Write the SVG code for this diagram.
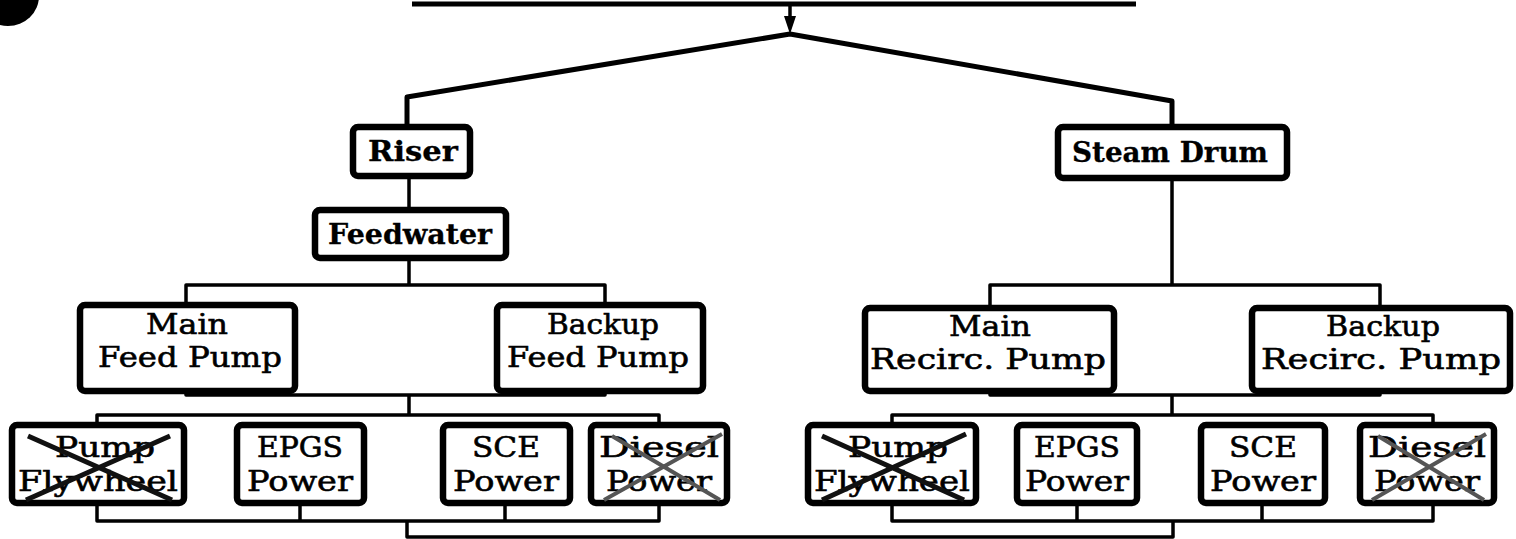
<svg xmlns="http://www.w3.org/2000/svg" width="1516" height="539" viewBox="0 0 1516 539">
<style>
.box{fill:#fff;stroke:#000;stroke-width:6.5}
.t{font-family:"DejaVu Serif","Liberation Serif",serif;fill:#000;stroke:#000;stroke-width:0.6;text-anchor:middle;font-size:28px}
.b{font-weight:bold;stroke-width:0.3}
.ln{stroke:#000;stroke-width:3.5;fill:none;stroke-linejoin:round}
.thick{stroke-width:5}
.xd{stroke:#111;stroke-width:5}
.xg{stroke:#555;stroke-width:4}
</style>
<rect width="1516" height="539" fill="#fff"/>
<ellipse cx="8" cy="-4" rx="31" ry="30" fill="#000"/>
<g id="connectors">
<path class="ln thick" d="M412,4 H1136"/>
<path class="ln" d="M790,5 V28"/>
<polygon points="784,16 796,16 790,34" fill="#000"/>
<path class="ln thick" d="M407,127 V97 L790,34 L1172,101 V127"/>
<path class="ln" d="M409,176 V210"/>
<path class="ln" d="M409,258 V285 M186,305 V285 H605 V305"/>
<path class="ln" d="M186,391 V395 H605 V391 M409,395 V415"/>
<path class="ln" d="M97,425 V415 H659 V425"/>
<path class="ln" d="M97,503 V521 H659 V503 M300,503 V521 M505,503 V521"/>
<path class="ln" d="M407,521 V537 H1173 V521"/>
<path class="ln" d="M1172,178 V285 M990,308 V285 H1380 V308"/>
<path class="ln" d="M990,391 V395 H1380 V391 M1172,395 V415"/>
<path class="ln" d="M892,425 V415 H1433 V425"/>
<path class="ln" d="M892,503 V521 H1433 V503 M1077,503 V521 M1262,503 V521"/>
</g>
<g id="riser"><rect class="box" x="353" y="127" width="117" height="49" rx="5"/><text class="t b" x="413" y="161" textLength="90" lengthAdjust="spacingAndGlyphs">Riser</text></g>
<g id="feedwater"><rect class="box" x="315" y="210" width="191" height="48" rx="5"/><text class="t b" x="410" y="244" textLength="164" lengthAdjust="spacingAndGlyphs">Feedwater</text></g>
<g id="steam-drum"><rect class="box" x="1058" y="127" width="229" height="51" rx="5"/><text class="t b" x="1170" y="162" textLength="196" lengthAdjust="spacingAndGlyphs">Steam Drum</text></g>
<g id="main-feed-pump"><rect class="box" x="80" y="305" width="215" height="86" rx="5"/><text class="t" x="187" y="334" textLength="82" lengthAdjust="spacingAndGlyphs">Main</text><text class="t" x="190" y="367" textLength="184" lengthAdjust="spacingAndGlyphs">Feed Pump</text></g>
<g id="backup-feed-pump"><rect class="box" x="497" y="305" width="206" height="86" rx="5"/><text class="t" x="603" y="334" textLength="112" lengthAdjust="spacingAndGlyphs">Backup</text><text class="t" x="598" y="367" textLength="182" lengthAdjust="spacingAndGlyphs">Feed Pump</text></g>
<g id="main-recirc-pump"><rect class="box" x="865" y="308" width="249" height="83" rx="5"/><text class="t" x="990" y="336" textLength="82" lengthAdjust="spacingAndGlyphs">Main</text><text class="t" x="988" y="369" textLength="236" lengthAdjust="spacingAndGlyphs">Recirc. Pump</text></g>
<g id="backup-recirc-pump"><rect class="box" x="1252" y="308" width="258" height="83" rx="5"/><text class="t" x="1383" y="336" textLength="114" lengthAdjust="spacingAndGlyphs">Backup</text><text class="t" x="1381" y="369" textLength="240" lengthAdjust="spacingAndGlyphs">Recirc. Pump</text></g>
<g id="pump-flywheel-left"><rect class="box" x="12" y="425" width="172" height="78" rx="5"/><text class="t" x="105" y="457" textLength="100" lengthAdjust="spacingAndGlyphs">Pump</text><text class="t" x="98" y="491" textLength="160" lengthAdjust="spacingAndGlyphs">Flywheel</text><path class="xd" d="M28,436 L172,500 M26,500 L170,436"/></g>
<g id="epgs-power-left"><rect class="box" x="237" y="425" width="127" height="78" rx="5"/><text class="t" x="300" y="457" textLength="86" lengthAdjust="spacingAndGlyphs">EPGS</text><text class="t" x="300" y="491" textLength="106" lengthAdjust="spacingAndGlyphs">Power</text></g>
<g id="sce-power-left"><rect class="box" x="443" y="425" width="127" height="78" rx="5"/><text class="t" x="506" y="457" textLength="68" lengthAdjust="spacingAndGlyphs">SCE</text><text class="t" x="506" y="491" textLength="106" lengthAdjust="spacingAndGlyphs">Power</text></g>
<g id="diesel-power-left"><rect class="box" x="591" y="425" width="136" height="78" rx="5"/><text class="t" x="659" y="457" textLength="120" lengthAdjust="spacingAndGlyphs">Diesel</text><text class="t" x="659" y="491" textLength="106" lengthAdjust="spacingAndGlyphs">Power</text><path class="xg" d="M612,436 L720,500 M604,500 L722,434"/></g>
<g id="pump-flywheel-right"><rect class="box" x="808" y="425" width="168" height="78" rx="5"/><text class="t" x="898" y="457" textLength="100" lengthAdjust="spacingAndGlyphs">Pump</text><text class="t" x="892" y="491" textLength="156" lengthAdjust="spacingAndGlyphs">Flywheel</text><path class="xd" d="M822,436 L964,500 M822,500 L966,434"/></g>
<g id="epgs-power-right"><rect class="box" x="1017" y="425" width="120" height="78" rx="5"/><text class="t" x="1077" y="457" textLength="86" lengthAdjust="spacingAndGlyphs">EPGS</text><text class="t" x="1077" y="491" textLength="104" lengthAdjust="spacingAndGlyphs">Power</text></g>
<g id="sce-power-right"><rect class="box" x="1201" y="425" width="124" height="78" rx="5"/><text class="t" x="1263" y="457" textLength="68" lengthAdjust="spacingAndGlyphs">SCE</text><text class="t" x="1263" y="491" textLength="106" lengthAdjust="spacingAndGlyphs">Power</text></g>
<g id="diesel-power-right"><rect class="box" x="1360" y="425" width="134" height="78" rx="5"/><text class="t" x="1427" y="457" textLength="118" lengthAdjust="spacingAndGlyphs">Diesel</text><text class="t" x="1427" y="491" textLength="106" lengthAdjust="spacingAndGlyphs">Power</text><path class="xg" d="M1378,436 L1484,500 M1372,500 L1486,434"/></g>
</svg>
